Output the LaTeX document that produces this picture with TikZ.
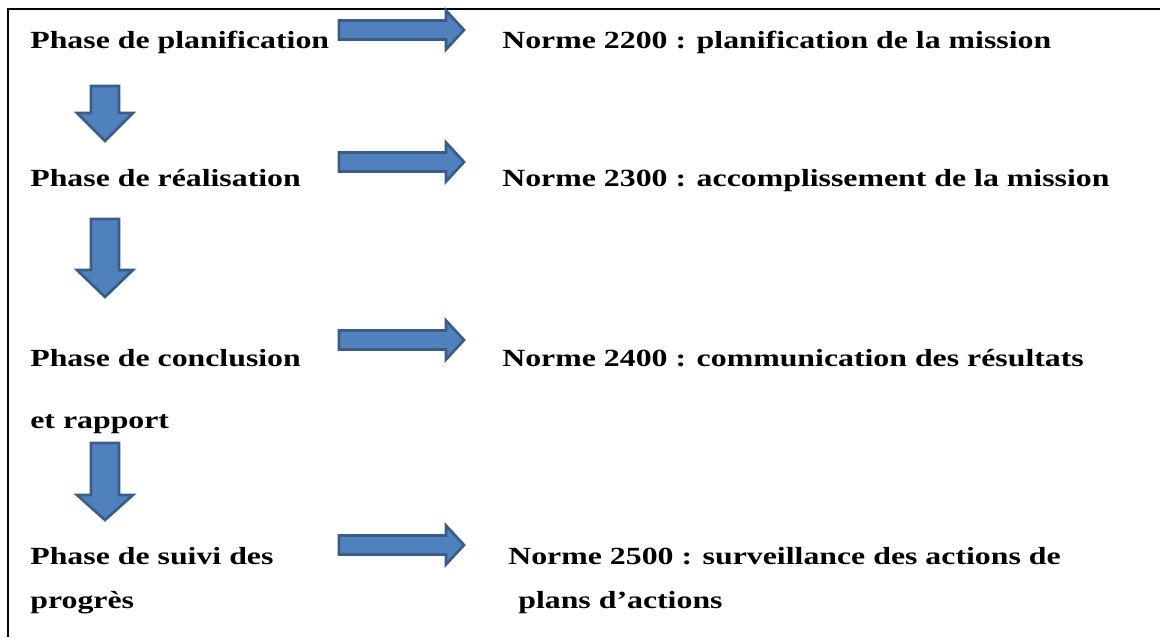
\documentclass[tikz,border=0pt]{standalone}
\usepackage{fontspec}
\setmainfont{Liberation Serif}
\begin{document}
\begin{tikzpicture}[x=0.75pt,y=-0.75pt,
  lbl/.style={anchor=base west,inner sep=0pt,xscale=1.29,transform shape,
    font=\fontsize{18.5}{22}\selectfont\bfseries},
  blockarrow/.style={fill=arrowfill,draw=arrowedge,line width=2pt,line join=miter}]
\definecolor{arrowfill}{HTML}{4F81BD}
\definecolor{arrowedge}{HTML}{385D8A}
\useasboundingbox (0,0) rectangle (1160,637);
% frame: top and left rules
\coordinate (tl) at (8,9);
\draw[line width=1.6pt] (1160,9) -- (tl) -- (8,637);

% phases (left column)
\node[lbl] (p1) at (30,48) {Phase de planification};
\node[lbl] (p2) at (30,186) {Phase de réalisation};
\node[lbl] (p3) at (30,366) {Phase de conclusion};
\node[lbl] (p3b) at (30,428) {et rapport};
\node[lbl] (p4) at (30,564) {Phase de suivi des};
\node[lbl] (p4b) at (30,608) {progrès};

% standards (right column)
\node[lbl] (n1) at (502,48) {Norme 2200 : planification de la mission};
\node[lbl] (n2) at (502,186) {Norme 2300 : accomplissement de la mission};
\node[lbl] (n3) at (502,366) {Norme 2400 : communication des résultats};
\node[lbl] (n4) at (508,564) {Norme 2500 : surveillance des actions de};
\node[lbl] (n4b) at (518,608) {plans d’actions};

% horizontal block arrows: phase -> standard
\foreach \cy in {30,162,340,545}{
  \draw[blockarrow] (339,\cy-9.5) -- (446,\cy-9.5) -- (446,\cy-19.5) -- (464,\cy)
    -- (446,\cy+19.5) -- (446,\cy+9.5) -- (339,\cy+9.5) -- cycle;
}

% vertical block arrows: phase -> next phase
\foreach \top/\base/\tip in {86/113/141, 219/270/297, 443/495/520}{
  \draw[blockarrow] (91,\top) -- (119,\top) -- (119,\base) -- (133,\base) -- (105,\tip)
    -- (77,\base) -- (91,\base) -- cycle;
}
\end{tikzpicture}
\end{document}
